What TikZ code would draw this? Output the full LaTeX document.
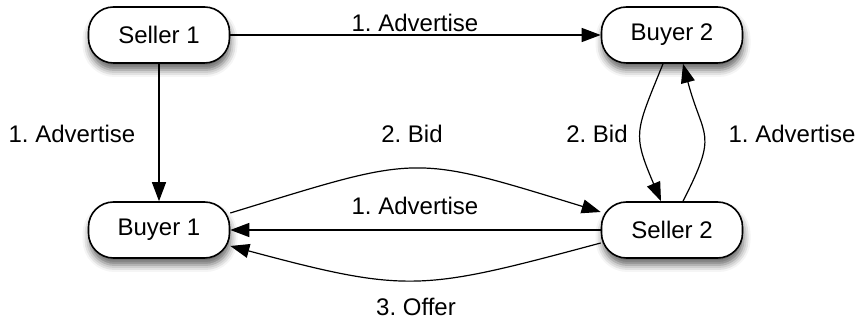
\documentclass[tikz,border=0pt]{standalone}
\usepackage{fontspec}
\setmainfont{Liberation Sans}
\usetikzlibrary{arrows.meta,shadows.blur}
\frenchspacing

\begin{document}
\begin{tikzpicture}[x=1pt,y=1pt,font=\fontsize{24}{28}\selectfont,
  agent/.style={draw,line width=1.6pt,rounded corners=25pt,fill=white,
    minimum width=141pt,minimum height=56pt,
    blur shadow={shadow xshift=1pt,shadow yshift=-7pt,shadow blur radius=7pt,shadow opacity=60}},
  msg/.style={line width=1.2pt,-{Triangle[length=19pt,width=14pt]}},
  lbl/.style={anchor=base}]
  \useasboundingbox (0,0) rectangle (856,326);
  \node[agent] (s1) at (159,291) {Seller 1};
  \node[agent] (b2) at (672,291) {Buyer 2};
  \node[agent] (b1) at (159,96) {Buyer 1};
  \node[agent] (s2) at (672,96) {Seller 2};
  \draw[msg] (s1) -- (b2);
  \draw[msg] (s1) -- (b1);
  \draw[msg] (s2) -- (b1);
  \draw[msg] ([yshift=17pt]b1.east) .. controls +(17:200) and +(163:200) .. ([yshift=18pt]s2.west);
  \draw[msg] ([yshift=-13pt]s2.west) .. controls +(195:185) and +(-15:185) .. ([yshift=-16pt]b1.east);
  \draw[msg] ([xshift=-9pt]b2.south) .. controls +(248:74) and +(113:74) .. ([xshift=-11pt]s2.north);
  \draw[msg] ([xshift=11pt]s2.north) .. controls +(63:79) and +(285:79) .. ([xshift=11pt]b2.south);
  \node[lbl] (l1) at (415,294) {1. Advertise};
  \node[lbl] (l2) at (72,183) {1. Advertise};
  \node[lbl] (l3) at (412,183) {2. Bid};
  \node[lbl] (l4) at (597,183) {2. Bid};
  \node[lbl] (l5) at (792,183) {1. Advertise};
  \node[lbl] (l6) at (415,111) {1. Advertise};
  \node[lbl] (l7) at (416,10) {3. Offer};
\end{tikzpicture}
\end{document}
